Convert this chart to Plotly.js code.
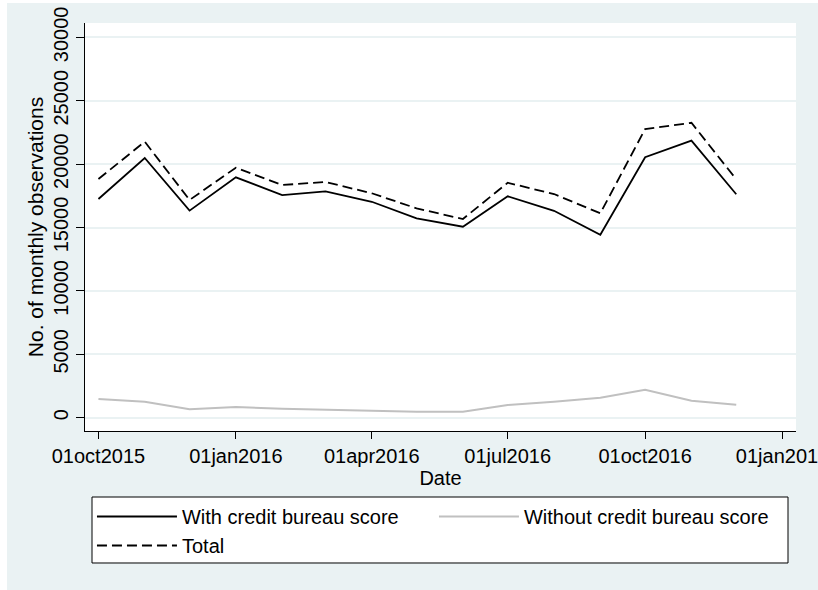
<!DOCTYPE html>
<html>
<head>
<meta charset="utf-8">
<script src="https://cdn.plot.ly/plotly-3.0.1.min.js"></script>
<style>
  html, body { margin: 0; padding: 0; background: #ffffff; width: 818px; height: 590px; overflow: hidden; }
  #chart { position: absolute; left: 7px; top: 3px; width: 811px; height: 587px; }
</style>
</head>
<body>
<div id="chart"></div>
<script>
const months = ['2015-10-01','2015-11-01','2015-12-01','2016-01-01','2016-02-01','2016-03-01','2016-04-01',
                '2016-05-01','2016-06-01','2016-07-01','2016-08-01','2016-09-01','2016-10-01','2016-11-01','2016-12-01'];
const withScore    = [17250, 20480, 16330, 18960, 17560, 17850, 17030, 15720, 15060, 17460, 16320, 14430, 20540, 21850, 17620];
const withoutScore = [1480, 1260, 660, 840, 710, 630, 550, 470, 470, 1000, 1260, 1580, 2210, 1340, 1030];
const total        = [18820, 21770, 17170, 19720, 18350, 18590, 17700, 16510, 15670, 18530, 17640, 16120, 22770, 23260, 18800];

const xTickVals = ['2015-10-01','2016-01-01','2016-04-01','2016-07-01','2016-10-01','2017-01-01'];
const xTickText = ['01oct2015','01jan2016','01apr2016','01jul2016','01oct2016','01jan2017'];
const yTickVals = [0, 5000, 10000, 15000, 20000, 25000, 30000];
const yTickText = ['0','5000','10000','15000','20000','25000','30000'];

const font = 'Liberation Sans, Arial, sans-serif';
const bg = '#EAF2F3';

const traces = [
  { x: months, y: withScore, type: 'scatter', mode: 'lines', name: 'With credit bureau score',
    line: { color: '#000000', width: 1.8 } },
  { x: months, y: withoutScore, type: 'scatter', mode: 'lines', name: 'Without credit bureau score',
    line: { color: '#c0c0c0', width: 2 } },
  { x: months, y: total, type: 'scatter', mode: 'lines', name: 'Total',
    line: { color: '#000000', width: 1.8, dash: '10px,5px' } }
];

const layout = {
  width: 811, height: 587,
  paper_bgcolor: bg, plot_bgcolor: '#ffffff',
  margin: { l: 78, r: 22, t: 20, b: 159, pad: 0 },
  font: { family: font, size: 20, color: '#000000' },
  showlegend: true,
  hovermode: false,
  xaxis: {
    type: 'date',
    range: ['2015-09-22', '2017-01-10'],
    tickmode: 'array', tickvals: xTickVals, ticktext: xTickText,
    ticks: 'outside', ticklen: 7, tickwidth: 1.2, tickcolor: '#000000',
    ticklabeloverflow: 'allow',
    showline: true, linecolor: '#000000', linewidth: 1.2,
    showgrid: false, zeroline: false,
    tickfont: { family: font, size: 20, color: '#000000' },
    title: { text: 'Date', font: { family: font, size: 20, color: '#000000' }, standoff: 0 }
  },
  yaxis: {
    range: [-1050, 31130],
    tickmode: 'array', tickvals: yTickVals, ticktext: yTickText,
    tickangle: -90,
    ticks: 'outside', ticklen: 8, tickwidth: 1.2, tickcolor: '#000000',
    showline: true, linecolor: '#000000', linewidth: 1.2,
    showgrid: true, gridcolor: bg, gridwidth: 2,
    zeroline: false,
    tickfont: { family: font, size: 20, color: '#000000' },
    title: { text: 'No. of monthly observations', font: { family: font, size: 21, color: '#000000' }, standoff: 0 }
  },
  shapes: [
    { type: 'rect', xref: 'paper', yref: 'paper', layer: 'below',
      x0: 0.00985, x1: 0.98875, y0: -0.3235, y1: -0.1618,
      fillcolor: '#ffffff', line: { color: '#000000', width: 1 } }
  ],
  legend: {
    orientation: 'h',
    x: 0.0098, xanchor: 'left',
    y: -0.1618, yanchor: 'top',
    bgcolor: 'rgba(0,0,0,0)', borderwidth: 0,
    font: { family: font, size: 20, color: '#000000' },
    entrywidth: 247, entrywidthmode: 'pixels',
    itemwidth: 80,
    traceorder: 'normal'
  }
};

Plotly.newPlot('chart', traces, layout, { displayModeBar: false, staticPlot: true });
</script>
</body>
</html>
